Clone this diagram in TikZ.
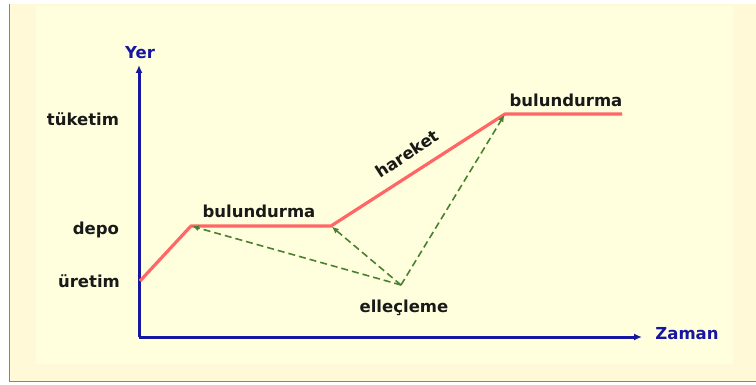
\documentclass[tikz,border=0pt]{standalone}
\usepackage{fontspec}
\setmainfont{DejaVu Sans}
\usetikzlibrary{arrows.meta,positioning,calc}
\definecolor{paleyellow}{RGB}{255,255,221}
\definecolor{outeryellow}{RGB}{255,249,216}
\definecolor{framegrey}{RGB}{125,125,195}
\definecolor{axisblue}{RGB}{22,22,160}
\definecolor{routered}{RGB}{255,102,102}
\definecolor{handgreen}{RGB}{72,130,48}

\begin{document}
\begin{tikzpicture}[x=1pt, y=-1pt, font=\bfseries\fontsize{16.5}{18}\selectfont,
    axis/.style={draw=axisblue, line width=3pt, -{Latex[length=8pt,width=7pt]}},
    route/.style={draw=routered, line width=3.2pt, line join=round},
    handling/.style={draw=handgreen, line width=1.6pt, dash pattern=on 7pt off 4pt,
                     -{Latex[length=7pt,width=6pt]}, shorten >=1pt},
    lab/.style={inner sep=1pt, text=black!90},
    axlab/.style={inner sep=1pt, text=axisblue}]
\useasboundingbox (0,0) rectangle (756,385);
% frame and background
\fill[outeryellow] (9,4) rectangle (756,382);
\fill[paleyellow] (36,6) rectangle (733,364);
\draw[framegrey, line width=1.8pt] (9.5,4) -- (9.5,381.5) -- (756,381.5);
% axes
\coordinate (O) at (139,337);
\coordinate (ytip) at (139,65);
\coordinate (xtip) at (642,337);
\node[axlab] (yer) at (140,53) {Yer};
\node[axlab] (zaman) at (687,334) {Zaman};
\draw[axis] (O) -- (ytip);
\draw[axis] (O) -- (xtip);
% levels
\node[lab] (tuketim) at (83,119) {tüketim};
\node[lab] (depo) at (96,230) {depo};
\node[lab] (uretim) at (89,281) {üretim};
% route of the goods
\coordinate (p0) at (140,281);
\coordinate (p1) at (191,226);
\coordinate (p2) at (331,226);
\coordinate (p3) at (505,114);
\coordinate (p4) at (622,114);
\draw[route] (p0) -- (p1) -- (p2) -- (p3) -- (p4);
\node[lab] (bul1) at (259,211) {bulundurma};
\node[lab] (bul2) at (566,100) {bulundurma};
\node[lab, rotate=33] (hareket) at (407,154) {hareket};
% handling points
\coordinate (h) at (401,285);
\node[lab] (elle) at (404,308) {elleçleme};
\draw[handling] (h) -- (p1);
\draw[handling] (h) -- (p2);
\draw[handling] (h) -- (p3);
\end{tikzpicture}
\end{document}
